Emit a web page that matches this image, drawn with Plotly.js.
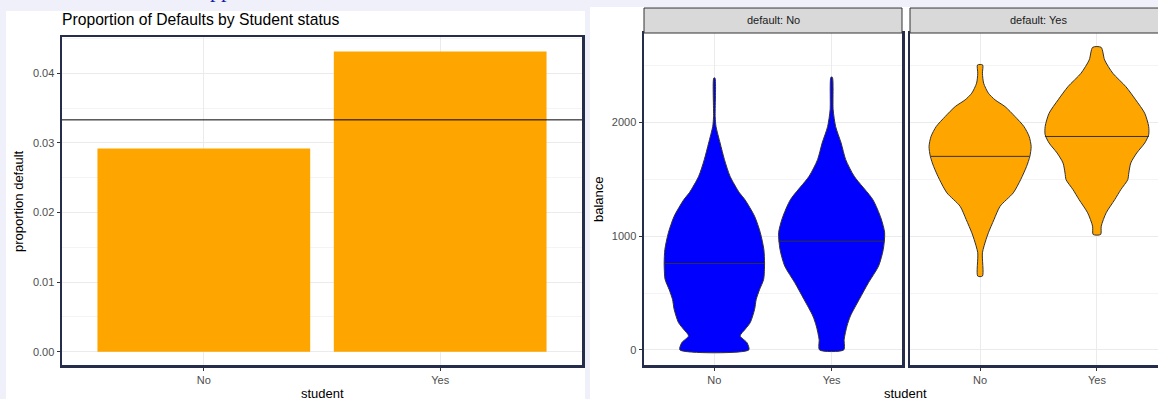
<!DOCTYPE html>
<html>
<head>
<meta charset="utf-8">
<script src="https://cdn.plot.ly/plotly-3.0.1.min.js"></script>
<style>
  html, body { margin: 0; padding: 0; overflow: hidden; background: #f0f0fb; }
  #chart { width: 1170px; height: 399px; }
</style>
</head>
<body>
<div id="chart"></div>
<script>
// Student status categories (shared by all panels)
const students = ['No', 'Yes'];

// Share of customers who defaulted, by student status, and overall
const propDefault = [0.0292, 0.0431];
const overallDefault = 0.0333;

// Balance distributions: balance levels and violin half-widths (category units)
// default: No, student: No
const balDefNoStuNo = [0, 65, 123, 182, 240, 357, 445, 532, 620, 760, 883, 1030, 1175, 1322, 1381, 1526, 1673, 1819, 1965, 2050, 2391];
const widDefNoStuNo = [0.294, 0.277, 0.220, 0.263, 0.306, 0.343, 0.357, 0.386, 0.420, 0.428, 0.422, 0.392, 0.343, 0.260, 0.214, 0.134, 0.086, 0.049, 0.014, 0.007, 0.005];
// default: No, student: Yes
const balDefNoStuYes = [0, 94, 211, 298, 445, 591, 737, 883, 1030, 1160, 1322, 1526, 1673, 1819, 1965, 2111, 2398];
const widDefNoStuYes = [0.103, 0.107, 0.131, 0.160, 0.236, 0.314, 0.400, 0.440, 0.452, 0.420, 0.351, 0.193, 0.120, 0.081, 0.034, 0.013, 0.006];
// default: Yes, student: No
const balDefYesStuNo = [649, 854, 971, 1030, 1146, 1263, 1381, 1497, 1614, 1702, 1789, 1877, 1965, 2053, 2140, 2199, 2258, 2346, 2433, 2506];
const widDefYesStuNo = [0.020, 0.020, 0.051, 0.071, 0.119, 0.171, 0.284, 0.347, 0.398, 0.426, 0.437, 0.420, 0.375, 0.298, 0.213, 0.128, 0.071, 0.030, 0.020, 0.022];
// default: Yes, student: Yes
const balDefYesStuYes = [1015, 1088, 1205, 1322, 1410, 1497, 1556, 1644, 1732, 1819, 1892, 1965, 2082, 2199, 2316, 2433, 2550, 2661];
const widDefYesStuYes = [0.032, 0.037, 0.079, 0.153, 0.205, 0.264, 0.273, 0.290, 0.341, 0.409, 0.443, 0.443, 0.409, 0.332, 0.247, 0.136, 0.066, 0.036];

// Median balance per student group, and violin half-width at the median
const medianDefNo = [760, 956];
const medianDefYes = [1702, 1877];
const medianWidDefNo = [0.428, 0.452];
const medianWidDefYes = [0.424, 0.445];

const W = 1170, H = 399;
const px = v => v / W;          // horizontal pixel -> paper
const py = v => 1 - v / H;      // vertical pixel (from top) -> paper

const FONT = 'Liberation Sans, Arial, Helvetica, sans-serif';
const FRAME = '#262d4a';
const GRID = '#ebebeb';
const MINOR = '#f4f4f4';
const BLUE = '#0000ff';
const ORANGE = '#ffa500';

function violin(center, bal, wid, color, xa, ya) {
  const xs = [], ys = [];
  for (let i = 0; i < bal.length; i++) { xs.push(center + wid[i]); ys.push(bal[i]); }
  for (let i = bal.length - 1; i >= 0; i--) { xs.push(center - wid[i]); ys.push(bal[i]); }
  xs.push(xs[0]); ys.push(ys[0]);
  return {
    type: 'scatter', mode: 'lines', x: xs, y: ys, xaxis: xa, yaxis: ya,
    fill: 'toself', fillcolor: color,
    line: { color: '#333333', width: 1, shape: 'spline', smoothing: 0.7 },
    hoverinfo: 'skip', showlegend: false
  };
}

function medianLine(center, m, w, xa, ya) {
  return {
    type: 'scatter', mode: 'lines', x: [center - w, center + w], y: [m, m],
    xaxis: xa, yaxis: ya, line: { color: '#333333', width: 1 },
    hoverinfo: 'skip', showlegend: false
  };
}

const traces = [
  {
    type: 'bar', x: students, y: propDefault, width: 0.9,
    marker: { color: ORANGE }, xaxis: 'x', yaxis: 'y',
    hoverinfo: 'x+y', showlegend: false
  },
  violin(0, balDefNoStuNo, widDefNoStuNo, BLUE, 'x2', 'y2'),
  violin(1, balDefNoStuYes, widDefNoStuYes, BLUE, 'x2', 'y2'),
  violin(0, balDefYesStuNo, widDefYesStuNo, ORANGE, 'x3', 'y3'),
  violin(1, balDefYesStuYes, widDefYesStuYes, ORANGE, 'x3', 'y3'),
  medianLine(0, medianDefNo[0], medianWidDefNo[0], 'x2', 'y2'),
  medianLine(1, medianDefNo[1], medianWidDefNo[1], 'x2', 'y2'),
  medianLine(0, medianDefYes[0], medianWidDefYes[0], 'x3', 'y3'),
  medianLine(1, medianDefYes[1], medianWidDefYes[1], 'x3', 'y3')
];

const baseAxis = {
  showgrid: true, gridcolor: GRID, gridwidth: 1,
  zeroline: false,
  showline: true, linecolor: FRAME, linewidth: 2.5, mirror: true,
  ticks: 'outside', ticklen: 3, tickwidth: 1, tickcolor: '#333333',
  tickfont: { family: FONT, size: 11, color: '#4d4d4d' },
  fixedrange: true
};

const catAxis = Object.assign({}, baseAxis, {
  type: 'linear', range: [-0.6, 1.6], tickvals: [0, 1], ticktext: students
});

const balanceAxis = Object.assign({}, baseAxis, {
  range: [-133, 2787], tickvals: [0, 1000, 2000],
  minor: { dtick: 500, tick0: 0, showgrid: true, gridcolor: MINOR, gridwidth: 1 }
});

const layout = {
  width: W, height: H, autosize: false,
  margin: { l: 0, r: 0, t: 0, b: 0 },
  paper_bgcolor: '#f0f0fb', plot_bgcolor: '#ffffff',
  font: { family: FONT, color: '#000000' },
  showlegend: false,
  title: {
    text: 'Proportion of Defaults by Student status',
    x: px(62), xanchor: 'left', xref: 'paper',
    y: py(19.5), yanchor: 'middle', yref: 'paper',
    font: { family: FONT, size: 15.7, color: '#000000' }
  },
  xaxis: Object.assign({}, baseAxis, {
    domain: [px(62), px(582)], anchor: 'y',
    type: 'category', range: [-0.6, 1.6]
  }),
  yaxis: Object.assign({}, baseAxis, {
    domain: [py(365), py(37)], anchor: 'x',
    range: [-0.0019, 0.0452], dtick: 0.01, tick0: 0, tickformat: '.2f',
    minor: { dtick: 0.005, tick0: 0, showgrid: true, gridcolor: MINOR, gridwidth: 1 }
  }),
  xaxis2: Object.assign({}, catAxis, { domain: [px(644), px(902)], anchor: 'y2' }),
  yaxis2: Object.assign({}, balanceAxis, { domain: [py(365), py(33)], anchor: 'x2' }),
  xaxis3: Object.assign({}, catAxis, { domain: [px(910), px(1167)], anchor: 'y3' }),
  yaxis3: Object.assign({}, balanceAxis, {
    domain: [py(365), py(33)], anchor: 'x3', showticklabels: false, ticks: ''
  }),
  shapes: [
    // white panels on the page background
    { type: 'rect', xref: 'paper', yref: 'paper', layer: 'below',
      x0: px(6), x1: px(585), y0: 0, y1: py(11),
      fillcolor: '#ffffff', line: { width: 0 } },
    { type: 'rect', xref: 'paper', yref: 'paper', layer: 'below',
      x0: px(590), x1: 1, y0: 0, y1: py(7),
      fillcolor: '#ffffff', line: { width: 0 } },
    // overall default rate
    { type: 'line', xref: 'x domain', yref: 'y', x0: 0, x1: 1,
      y0: overallDefault, y1: overallDefault,
      line: { color: '#000000', width: 1 } },
    // facet strips
    { type: 'rect', xref: 'x2 domain', yref: 'paper', x0: 0, x1: 1,
      y0: py(33), y1: py(8), fillcolor: '#d9d9d9',
      line: { color: '#333333', width: 1 } },
    { type: 'rect', xref: 'x3 domain', yref: 'paper', x0: 0, x1: 1,
      y0: py(33), y1: py(8), fillcolor: '#d9d9d9',
      line: { color: '#333333', width: 1 } }
  ],
  annotations: [
    { text: 'pp', xref: 'paper', yref: 'paper', x: px(221), y: py(3.5),
      xanchor: 'center', yanchor: 'bottom', showarrow: false,
      font: { family: 'Liberation Serif, Times New Roman, serif', size: 22, color: '#1a1aa6' } },
    { text: 'proportion default', xref: 'paper', yref: 'paper', x: px(18), y: py(201),
      xanchor: 'center', yanchor: 'middle', textangle: -90, showarrow: false,
      font: { family: FONT, size: 13, color: '#000000' } },
    { text: 'student', xref: 'paper', yref: 'paper', x: px(322), y: py(393),
      xanchor: 'center', yanchor: 'middle', showarrow: false,
      font: { family: FONT, size: 13, color: '#000000' } },
    { text: 'balance', xref: 'paper', yref: 'paper', x: px(598), y: py(199),
      xanchor: 'center', yanchor: 'middle', textangle: -90, showarrow: false,
      font: { family: FONT, size: 13, color: '#000000' } },
    { text: 'student', xref: 'paper', yref: 'paper', x: px(905), y: py(393),
      xanchor: 'center', yanchor: 'middle', showarrow: false,
      font: { family: FONT, size: 13, color: '#000000' } },
    { text: 'default: No', xref: 'x2 domain', yref: 'paper', x: 0.5, y: py(20.5),
      xanchor: 'center', yanchor: 'middle', showarrow: false,
      font: { family: FONT, size: 11, color: '#1a1a1a' } },
    { text: 'default: Yes', xref: 'x3 domain', yref: 'paper', x: 0.5, y: py(20.5),
      xanchor: 'center', yanchor: 'middle', showarrow: false,
      font: { family: FONT, size: 11, color: '#1a1a1a' } }
  ]
};

Plotly.newPlot('chart', traces, layout, { displayModeBar: false, staticPlot: true });
</script>
</body>
</html>
